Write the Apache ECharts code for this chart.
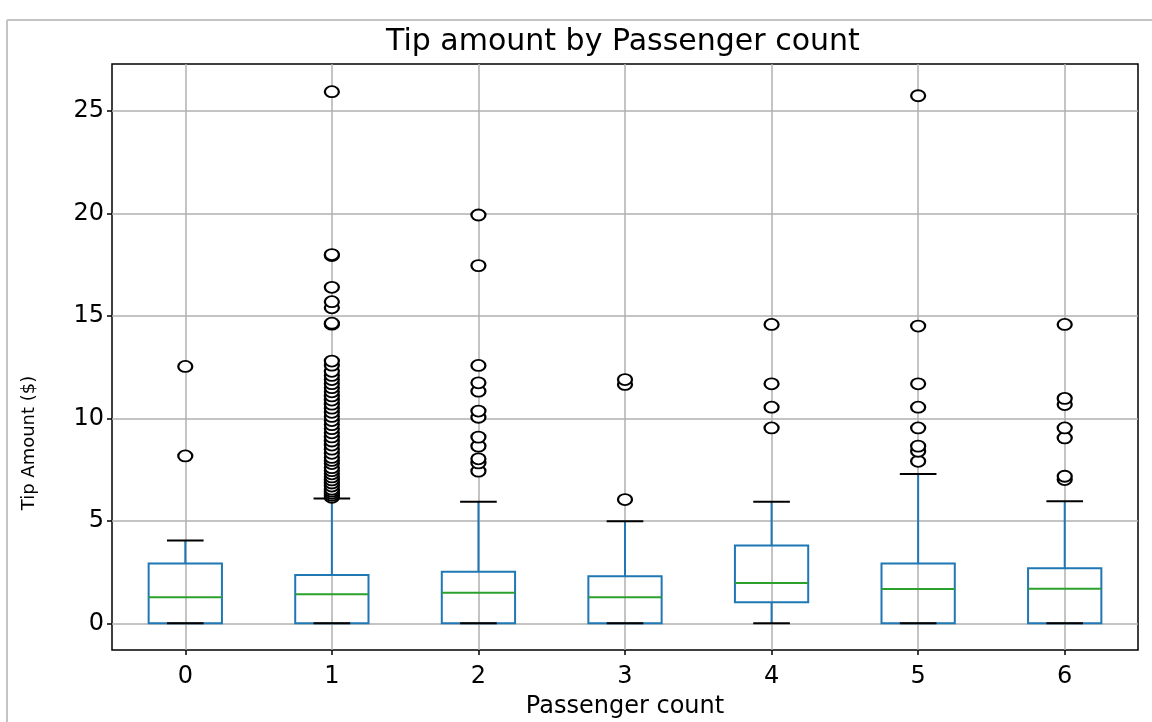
<!DOCTYPE html>
<html>
<head>
<meta charset="utf-8">
<script src="https://cdn.jsdelivr.net/npm/echarts@6/dist/echarts.min.js"></script>
<style>
html,body{margin:0;padding:0;background:#fff;}
#chart{width:1152px;height:722px;}
</style>
</head>
<body>
<div id="chart"></div>
<script>
// ---- data ----
const categories = ['0', '1', '2', '3', '4', '5', '6'];
// [lower whisker, Q1, median, Q3, upper whisker]
const lowerWhisker = [0, 0, 0, 0, 0, 0, 0];
const q1Values     = [0, 0, 0, 0, 1.03, 0, 0];
const medianValues = [1.27, 1.42, 1.50, 1.27, 1.97, 1.68, 1.69];
const q3Values     = [2.92, 2.36, 2.52, 2.30, 3.80, 2.92, 2.69];
const upperWhisker = [4.04, 6.10, 5.94, 4.98, 5.93, 7.29, 5.96];

const outliers0 = [8.17, 12.54];
const outliers1 = [6.15, 6.25, 6.35, 6.45, 6.55, 6.7, 6.85, 7.0, 7.15, 7.3, 7.45, 7.6, 7.8, 7.95,
                   8.1, 8.3, 8.5, 8.7, 8.9, 9.1, 9.3, 9.5, 9.7, 9.9, 10.1, 10.3, 10.5, 10.7, 10.9,
                   11.1, 11.3, 11.5, 11.7, 11.9, 12.1, 12.3, 12.6, 12.8, 14.6, 14.65, 15.4, 15.7,
                   16.4, 17.95, 18.0, 25.95];
const outliers2 = [7.43, 7.83, 8.03, 8.65, 9.09, 10.06, 10.36, 11.33, 11.74, 12.59, 17.46, 19.93];
const outliers3 = [6.04, 11.66, 11.9];
const outliers4 = [9.54, 10.55, 11.69, 14.59];
const outliers5 = [7.91, 8.4, 8.65, 9.54, 10.55, 11.69, 14.51, 25.75];
const outliers6 = [7.02, 7.18, 9.05, 9.54, 10.68, 10.98, 14.59];

const yTicks = [0, 5, 10, 15, 20, 25];
const xTicks = [0, 1, 2, 3, 4, 5, 6];

const titleText = 'Tip amount by Passenger count';
const xName = 'Passenger count';
const yName = 'Tip Amount ($)';

// ---- build ----
const boxData = categories.map((c, i) => [i, lowerWhisker[i], q1Values[i], medianValues[i], q3Values[i], upperWhisker[i]]);
const allOutliers = [outliers0, outliers1, outliers2, outliers3, outliers4, outliers5, outliers6];
const outlierData = [];
allOutliers.forEach((arr, i) => arr.forEach(v => outlierData.push([i, v])));

const FONT = "'DejaVu Sans', sans-serif";
const BLUE = '#1f77b4', GREEN = '#2ca02c';

const chart = echarts.init(document.getElementById('chart'), null, {renderer: 'canvas'});
chart.setOption({
  backgroundColor: '#fff',
  animation: false,
  title: {
    text: titleText,
    left: 386, top: 27, padding: 0,
    textStyle: {fontFamily: FONT, fontSize: 30, fontWeight: 'normal', color: '#000'}
  },
  graphic: [
    {type: 'line', shape: {x1: 7, y1: 20, x2: 1152, y2: 20}, style: {stroke: '#c4c4c4', lineWidth: 2}, silent: true},
    {type: 'line', shape: {x1: 7, y1: 20, x2: 7, y2: 722}, style: {stroke: '#c4c4c4', lineWidth: 2}, silent: true}
  ],
  grid: {
    left: 112, right: 14, top: 64, bottom: 72,
    outerBoundsMode: 'none', containLabel: false,
    show: true, borderColor: '#000', borderWidth: 1.5, backgroundColor: 'transparent'
  },
  xAxis: [
    {
      type: 'category', data: categories, boundaryGap: true,
      axisLine: {show: false, onZero: false}, axisTick: {show: false}, axisLabel: {show: false}, splitLine: {show: false}
    },
    {
      type: 'value', min: -0.5, max: 6.5, position: 'bottom',
      name: xName, nameLocation: 'middle', nameGap: 45,
      nameTextStyle: {fontFamily: FONT, fontSize: 24, color: '#000'},
      axisLine: {show: false, onZero: false},
      axisTick: {show: true, length: 5, customValues: xTicks, lineStyle: {color: '#000', width: 1.5}},
      axisLabel: {customValues: xTicks, margin: 15, fontFamily: FONT, fontSize: 24, color: '#000',
                  formatter: v => String(Math.round(v))},
      splitLine: {show: true, lineStyle: {color: '#b0b0b0', width: 1.5}}
    }
  ],
  yAxis: {
    type: 'value', min: -1.3, max: 27.3, position: 'left',
    name: yName, nameLocation: 'middle', nameGap: 74,
    nameTextStyle: {fontFamily: FONT, fontSize: 18, color: '#000', padding: [0, 172, 0, 0]},
    axisLine: {show: false, onZero: false},
    axisTick: {show: true, length: 5, customValues: yTicks, lineStyle: {color: '#000', width: 1.5}},
    axisLabel: {customValues: yTicks, margin: 8, fontFamily: FONT, fontSize: 24, color: '#000'},
    splitLine: {show: true, lineStyle: {color: '#b0b0b0', width: 1.5}}
  },
  series: [
    {
      type: 'custom',
      xAxisIndex: 0,
      data: boxData,
      encode: {x: 0, y: [1, 2, 3, 4, 5]},
      z: 3,
      renderItem: function (params, api) {
        const i = api.value(0);
        const lo = api.coord([i, api.value(1)]);
        const q1 = api.coord([i, api.value(2)]);
        const md = api.coord([i, api.value(3)]);
        const q3 = api.coord([i, api.value(4)]);
        const hi = api.coord([i, api.value(5)]);
        const band = api.size([1, 0])[0];
        const bw = band * 0.5;
        const cw = bw * 0.5;
        const cx = lo[0];
        const blue = {stroke: BLUE, lineWidth: 2, fill: null};
        const black = {stroke: '#000', lineWidth: 2};
        return {
          type: 'group',
          children: [
            {type: 'line', shape: {x1: cx, y1: q3[1], x2: cx, y2: hi[1]}, style: blue},
            {type: 'line', shape: {x1: cx, y1: q1[1], x2: cx, y2: lo[1]}, style: blue},
            {type: 'rect', shape: {x: cx - bw / 2, y: q3[1], width: bw, height: q1[1] - q3[1]}, style: blue},
            {type: 'line', shape: {x1: cx - bw / 2, y1: md[1], x2: cx + bw / 2, y2: md[1]}, style: {stroke: GREEN, lineWidth: 2}},
            {type: 'line', shape: {x1: cx - cw / 2, y1: hi[1], x2: cx + cw / 2, y2: hi[1]}, style: black},
            {type: 'line', shape: {x1: cx - cw / 2, y1: lo[1], x2: cx + cw / 2, y2: lo[1]}, style: black}
          ]
        };
      }
    },
    {
      type: 'scatter',
      xAxisIndex: 0,
      data: outlierData,
      symbol: 'emptyCircle',
      symbolSize: [14, 11],
      z: 4,
      itemStyle: {color: '#000', borderColor: '#000', borderWidth: 2, opacity: 1},
      silent: true
    }
  ]
});
</script>
</body>
</html>
